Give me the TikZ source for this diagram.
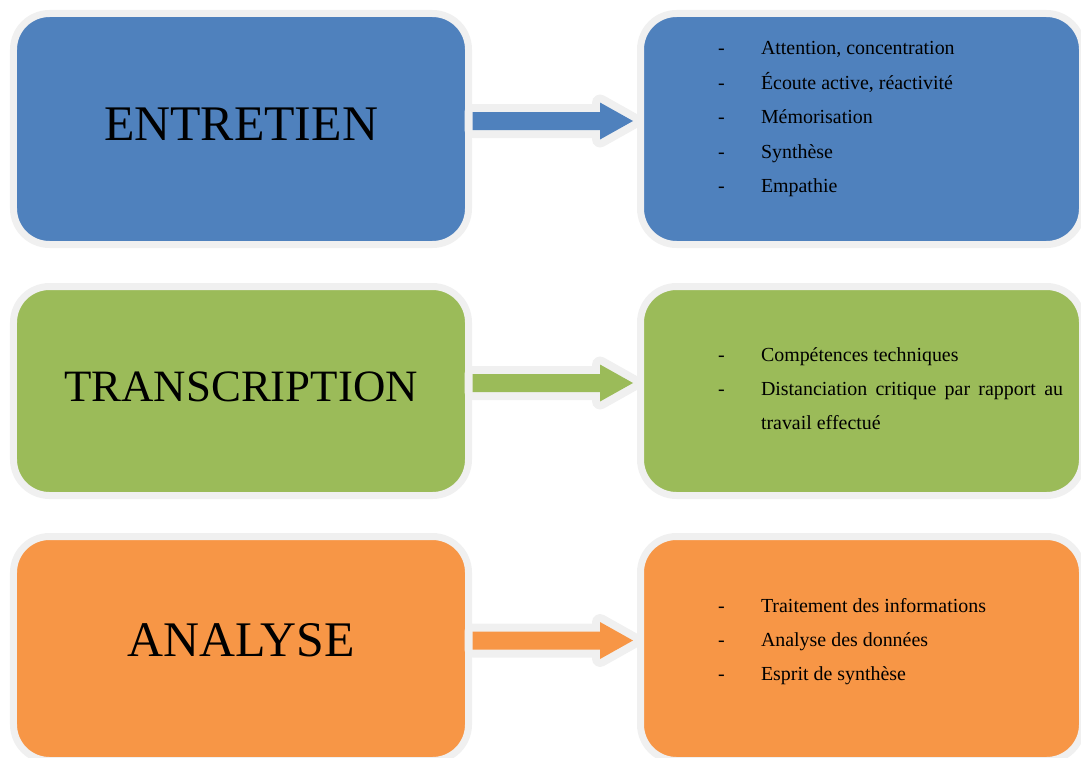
\documentclass[tikz,border=0pt]{standalone}
\usepackage{fontspec}
\setmainfont{Liberation Serif}
\usepackage{tikz}
\usetikzlibrary{positioning}
\usetikzlibrary{calc}
\definecolor{boxblue}{HTML}{4F81BD}
\definecolor{boxgreen}{HTML}{9BBB59}
\definecolor{boxorange}{HTML}{F79646}
\definecolor{rimgray}{HTML}{F0F0F0}
\tikzset{stage box/.style={draw=rimgray,line width=7bp,rounded corners=36bp,outer sep=0pt,inner sep=0pt,minimum width=455bp},
  skill box/.style={stage box,minimum width=442bp},
  stage title/.style={font=\fontsize{50}{60}\selectfont,text depth=9bp},
  item list/.style={anchor=base west,inner sep=0pt,outer sep=0pt,font=\fontsize{20}{34.5}\selectfont},
  block arrow/.style={fill=#1,preaction={draw=rimgray,line width=16bp,line join=round}},}

\begin{document}
\begin{tikzpicture}[x=1bp,y=-1bp]
    \useasboundingbox (0,0) rectangle (1081,758);

    \node[stage box,fill=boxblue,minimum height=231bp,stage title] (entretien) at (241,129) {ENTRETIEN};
    \node[stage box,fill=boxgreen,minimum height=209bp,stage title,font=\fontsize{45}{54}\selectfont] (transcription) [below=42bp of entretien] {TRANSCRIPTION};
    \node[stage box,fill=boxorange,minimum height=224bp,stage title,text depth=18bp] (analyse) [below=41bp of transcription] {ANALYSE};

    \node[skill box,fill=boxblue,minimum height=231bp] (skills-entretien) [right=172bp of entretien] {};
    \node[skill box,fill=boxgreen,minimum height=209bp] (skills-transcription) [right=172bp of transcription] {};
    \node[skill box,fill=boxorange,minimum height=224bp] (skills-analyse) [right=172bp of analyse] {};

    \foreach \from/\to/\fillcol in {entretien/skills-entretien/boxblue,transcription/skills-transcription/boxgreen,analyse/skills-analyse/boxorange}
        \fill[block arrow=\fillcol] ($(\from.east)+(4,-17)$) -- ($(\to.west)+(-40.5,-17)$)
            -- ($(\to.west)+(-40.5,-26.5)$) -- ($(\to.west)+(-7.5,-8)$)
            -- ($(\to.west)+(-40.5,10.5)$) -- ($(\to.west)+(-40.5,1)$)
            -- ($(\from.east)+(4,1)$) -- cycle;

    \node[item list] (list-entretien) at ($(skills-entretien.north west)+(77.5,41.5)$) {%
        \begin{tabular}[t]{@{}p{43bp}@{}p{302bp}@{}}
        - & Attention, concentration\\
        - & Écoute active, réactivité\\
        - & Mémorisation\\
        - & Synthèse\\
        - & Empathie
        \end{tabular}};
    \node[item list] (list-transcription) at ($(skills-transcription.north west)+(77.5,74.5)$) {%
        \begin{tabular}[t]{@{}p{43bp}@{}p{302bp}@{}}
        - & Compétences techniques\\
        - & Distanciation critique par rapport au\linebreak travail effectué
        \end{tabular}};
    \node[item list] (list-analyse) at ($(skills-analyse.north west)+(77.5,75.5)$) {%
        \begin{tabular}[t]{@{}p{43bp}@{}p{302bp}@{}}
        - & Traitement des informations\\
        - & Analyse des données\\
        - & Esprit de synthèse
        \end{tabular}};
\end{tikzpicture}
\end{document}
